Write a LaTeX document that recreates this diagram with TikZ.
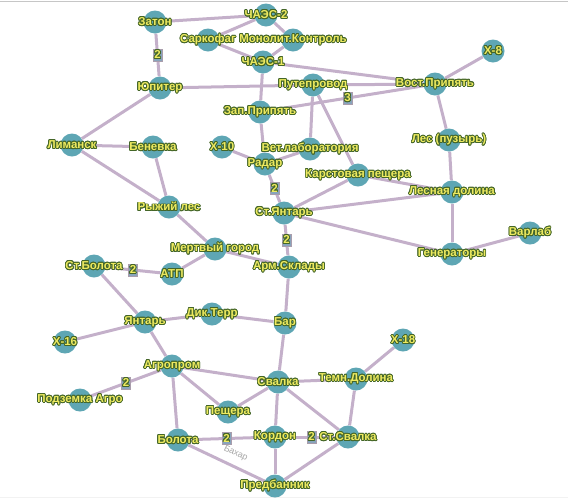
\documentclass[tikz,border=0pt]{standalone}
\usepackage{fontspec}
\setmainfont{Liberation Sans}
\usepackage{contour}
\usetikzlibrary{backgrounds}
\definecolor{roadcol}{RGB}{196,176,202}
\definecolor{stncol}{RGB}{94,166,180}
\definecolor{txtcol}{RGB}{238,234,96}
\definecolor{outcol}{RGB}{68,102,40}
\definecolor{numcol}{RGB}{136,164,188}
\contourlength{0.8pt}

\begin{document}
\begin{tikzpicture}[x=1pt, y=-1pt,
	stn/.style={circle, fill=stncol, minimum size=23pt, inner sep=0pt},
	lbl/.style={font=\fontsize{11.5}{12}\selectfont\bfseries, text=txtcol, inner sep=0pt},
	road/.style={draw=roadcol, line width=3pt},
	num/.style={fill=numcol, draw=roadcol!60!gray, line width=0.6pt, inner sep=1.5pt, font=\fontsize{11.5}{12}\selectfont\bfseries, text=txtcol}]
	\useasboundingbox (0,0) rectangle (568,499);
	\draw[gray!45, line width=1.5pt] (0,1.5) -- (568,1.5);
	\draw[gray!10, line width=0.8pt] (0,497.5) -- (568,497.5);
	\foreach \n/\p in {zaton/{155,22}, chaes2/{266,15}, sarkofag/{208,40}, monolit/{293,40}, chaes1/{263,62},
		yupiter/{160,88}, puteprovod/{313,85}, zappr/{260,112}, vostpr/{435,84}, x8/{493,51}, lespuz/{449,140},
		limansk/{72,145}, benevka/{153,147}, x10/{222,147}, radar/{265,164}, vetlab/{310,149}, karst/{358,175},
		lesdol/{452,192}, styantar/{284,213}, ryzh/{169,207}, mertv/{215,249}, armskl/{289,267}, generat/{452,254},
		varlab/{530,233}, stbol/{94,266}, atp/{172,274}, yantar/{145,322}, diktp/{212,314}, bar/{285,323},
		x16/{65,342}, agro/{172,366}, podagro/{80,400}, svalka/{278,382}, temn/{356,379}, x18/{403,340},
		peshch/{228,412}, bolota/{178,440}, kordon/{275,437}, stsval/{348,437}, predb/{275,486}}
		{\node[stn] (\n) at (\p) {};}
	\begin{scope}[on background layer]
		\foreach \a/\b in {zaton/chaes2, chaes2/sarkofag, chaes2/monolit, sarkofag/chaes1, monolit/chaes1,
			chaes1/vostpr, chaes1/zappr, yupiter/puteprovod, puteprovod/vostpr, yupiter/limansk, puteprovod/vetlab,
			puteprovod/karst, zappr/radar, x10/radar, radar/vetlab, limansk/benevka, limansk/ryzh, benevka/ryzh,
			ryzh/mertv, mertv/atp, mertv/armskl, styantar/karst, styantar/lesdol, styantar/generat, karst/lesdol,
			lespuz/lesdol, vostpr/lespuz, vostpr/x8, lesdol/generat, generat/varlab, stbol/yantar, yantar/x16,
			yantar/diktp, diktp/bar, armskl/bar, yantar/agro, bar/svalka, agro/svalka, agro/peshch, agro/bolota,
			svalka/peshch, svalka/temn, svalka/kordon, svalka/stsval, temn/x18, temn/stsval, kordon/predb, stsval/predb}
			{\draw[road] (\a) -- (\b);}
		\foreach \a/\b/\k in {zaton/yupiter/2, zappr/vostpr/3, radar/styantar/2, styantar/armskl/2,
			stbol/atp/2, agro/podagro/2, bolota/kordon/2, kordon/stsval/2}
			{\draw[road] (\a) -- node[num] {\contour{outcol}{\k}} (\b);}
		\draw[road] (bolota) -- node[pos=0.55, sloped, above=7pt, inner sep=0pt, font=\fontsize{9}{9}\selectfont, text=gray!70] {Бахар} (predb);
	\end{scope}
	\foreach \n/\t in {zaton/Затон, chaes2/ЧАЭС-2, sarkofag/Саркофаг, monolit/Монолит.Контроль, chaes1/ЧАЭС-1,
		yupiter/Юпитер, puteprovod/Путепровод, zappr/Зап.Припять, vostpr/Вост.Припять, x8/Х-8, lespuz/Лес (пузырь),
		limansk/Лиманск, benevka/Беневка, x10/Х-10, radar/Радар, vetlab/Вет.лаборатория, karst/Карстовая пещера,
		lesdol/Лесная долина, styantar/Ст.Янтарь, ryzh/Рыжий лес, mertv/Мертвый город, armskl/Арм.Склады,
		generat/Генераторы, varlab/Варлаб, stbol/Ст.Болота, atp/АТП, yantar/Янтарь, diktp/Дик.Терр, bar/Бар,
		x16/Х-16, agro/Агропром, podagro/Подземка Агро, svalka/Свалка, temn/Темн.Долина, x18/Х-18,
		peshch/Пещера, bolota/Болота, kordon/Кордон, stsval/Ст.Свалка, predb/Предбанник}
		{\node[lbl] at (\n) {\contour{outcol}{\t}};}
\end{tikzpicture}
\end{document}
